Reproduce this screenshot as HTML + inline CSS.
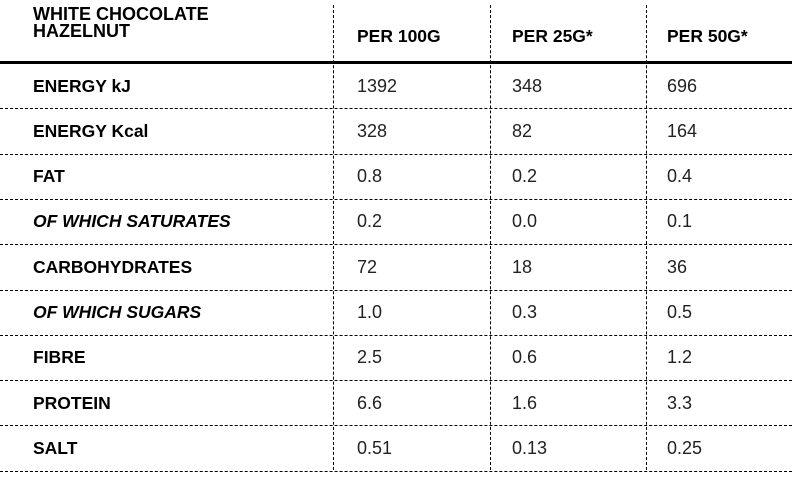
<!DOCTYPE html>
<html><head><style>
body{margin:0;width:792px;height:489px;background:#fff;position:relative;font-family:"Liberation Sans",sans-serif;color:#000;overflow:hidden}
.h{position:absolute;left:0;width:792px;border-top:1.5px dashed #000}
.v{position:absolute;top:5px;height:465px;border-left:1.5px dashed #000}
.t{position:absolute;font-size:17.5px;line-height:20px;white-space:nowrap}
.b{font-weight:bold}
.i{font-style:italic}
.n{color:#222;font-size:18px}
</style></head><body>
<div style="position:absolute;left:0;top:61px;width:792px;height:3px;background:#000"></div>
<div class="v" style="left:333px"></div>
<div class="v" style="left:490px"></div>
<div class="v" style="left:646px"></div>
<div class="t b" style="left:33px;top:6px;line-height:17px;font-size:18px">WHITE CHOCOLATE<br>HAZELNUT</div>
<div class="t b" style="left:357px;top:26px">PER 100G</div>
<div class="t b" style="left:512px;top:26px">PER 25G*</div>
<div class="t b" style="left:667px;top:26px">PER 50G*</div>
<div id="rows"></div>
<script>
var d=[["ENERGY kJ","1392","348","696",0],["ENERGY Kcal","328","82","164",0],["FAT","0.8","0.2","0.4",0],["OF WHICH SATURATES","0.2","0.0","0.1",1],["CARBOHYDRATES","72","18","36",0],["OF WHICH SUGARS","1.0","0.3","0.5",1],["FIBRE","2.5","0.6","1.2",0],["PROTEIN","6.6","1.6","3.3",0],["SALT","0.51","0.13","0.25",0]];
var h="";
d.forEach(function(r,k){var y=63+k*45.3;var c=y+22.5-10;
h+='<div class="t b'+(r[4]?' i':'')+'" style="left:33px;top:'+c+'px">'+r[0]+'</div>';
h+='<div class="t n" style="left:357px;top:'+c+'px">'+r[1]+'</div>';
h+='<div class="t n" style="left:512px;top:'+c+'px">'+r[2]+'</div>';
h+='<div class="t n" style="left:667px;top:'+c+'px">'+r[3]+'</div>';
h+='<div class="h" style="top:'+(y+45.3)+'px"></div>';});
document.getElementById("rows").innerHTML=h;
</script>
</body></html>
